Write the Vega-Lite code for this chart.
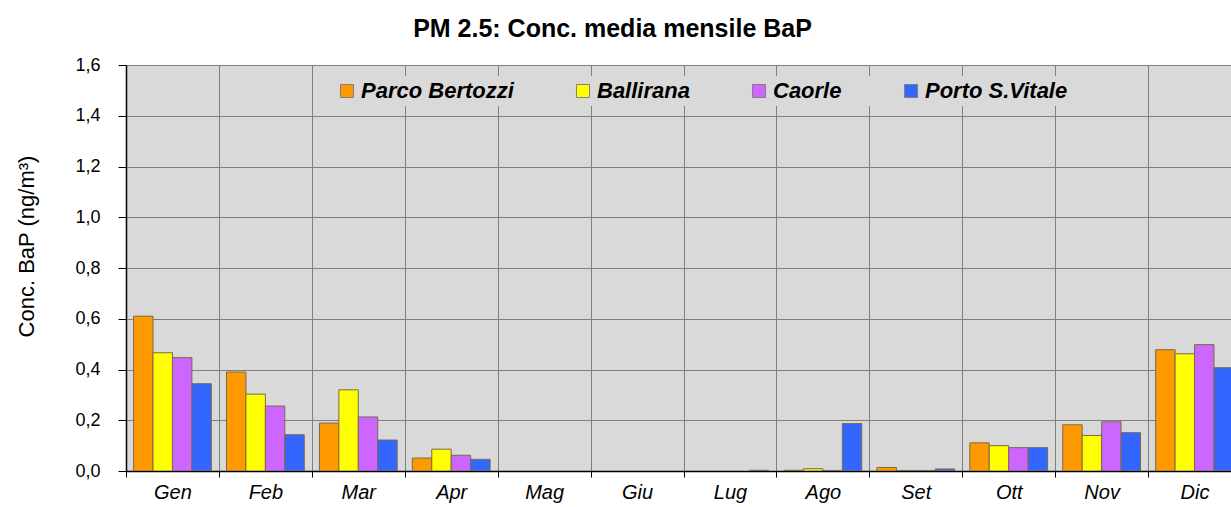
{
  "$schema": "https://vega.github.io/schema/vega-lite/v6.json",
  "autosize": {"type": "none"},
  "padding": {"left": 126, "top": 65, "right": 0, "bottom": 36},
  "width": 1105,
  "height": 406,
  "background": "white",
  "config": {
    "view": {"fill": "#d9d9d9", "stroke": null},
    "font": "Liberation Sans"
  },
  "title": {
    "text": "PM 2.5: Conc. media mensile BaP",
    "fontSize": 25,
    "fontWeight": "bold",
    "font": "Liberation Sans",
    "color": "#000000",
    "anchor": "middle",
    "frame": "group",
    "dx": -66,
    "offset": 14
  },
  "data": {
    "values": [
      {"mese": "Gen", "stazione": "Parco Bertozzi", "valore": 0.61},
      {"mese": "Gen", "stazione": "Ballirana", "valore": 0.466},
      {"mese": "Gen", "stazione": "Caorle", "valore": 0.447},
      {"mese": "Gen", "stazione": "Porto S.Vitale", "valore": 0.344},
      {"mese": "Feb", "stazione": "Parco Bertozzi", "valore": 0.39},
      {"mese": "Feb", "stazione": "Ballirana", "valore": 0.303},
      {"mese": "Feb", "stazione": "Caorle", "valore": 0.256},
      {"mese": "Feb", "stazione": "Porto S.Vitale", "valore": 0.143},
      {"mese": "Mar", "stazione": "Parco Bertozzi", "valore": 0.189},
      {"mese": "Mar", "stazione": "Ballirana", "valore": 0.32},
      {"mese": "Mar", "stazione": "Caorle", "valore": 0.213},
      {"mese": "Mar", "stazione": "Porto S.Vitale", "valore": 0.122},
      {"mese": "Apr", "stazione": "Parco Bertozzi", "valore": 0.051},
      {"mese": "Apr", "stazione": "Ballirana", "valore": 0.086},
      {"mese": "Apr", "stazione": "Caorle", "valore": 0.062},
      {"mese": "Apr", "stazione": "Porto S.Vitale", "valore": 0.046},
      {"mese": "Mag", "stazione": "Parco Bertozzi", "valore": 0},
      {"mese": "Mag", "stazione": "Ballirana", "valore": 0},
      {"mese": "Mag", "stazione": "Caorle", "valore": 0},
      {"mese": "Mag", "stazione": "Porto S.Vitale", "valore": 0},
      {"mese": "Giu", "stazione": "Parco Bertozzi", "valore": 0},
      {"mese": "Giu", "stazione": "Ballirana", "valore": 0},
      {"mese": "Giu", "stazione": "Caorle", "valore": 0},
      {"mese": "Giu", "stazione": "Porto S.Vitale", "valore": 0},
      {"mese": "Lug", "stazione": "Parco Bertozzi", "valore": 0},
      {"mese": "Lug", "stazione": "Ballirana", "valore": 0},
      {"mese": "Lug", "stazione": "Caorle", "valore": 0},
      {"mese": "Lug", "stazione": "Porto S.Vitale", "valore": 0.003},
      {"mese": "Ago", "stazione": "Parco Bertozzi", "valore": 0.003},
      {"mese": "Ago", "stazione": "Ballirana", "valore": 0.009},
      {"mese": "Ago", "stazione": "Caorle", "valore": 0.002},
      {"mese": "Ago", "stazione": "Porto S.Vitale", "valore": 0.187},
      {"mese": "Set", "stazione": "Parco Bertozzi", "valore": 0.014},
      {"mese": "Set", "stazione": "Ballirana", "valore": 0.002},
      {"mese": "Set", "stazione": "Caorle", "valore": 0.002},
      {"mese": "Set", "stazione": "Porto S.Vitale", "valore": 0.008},
      {"mese": "Ott", "stazione": "Parco Bertozzi", "valore": 0.111},
      {"mese": "Ott", "stazione": "Ballirana", "valore": 0.1},
      {"mese": "Ott", "stazione": "Caorle", "valore": 0.092},
      {"mese": "Ott", "stazione": "Porto S.Vitale", "valore": 0.092},
      {"mese": "Nov", "stazione": "Parco Bertozzi", "valore": 0.182},
      {"mese": "Nov", "stazione": "Ballirana", "valore": 0.14},
      {"mese": "Nov", "stazione": "Caorle", "valore": 0.194},
      {"mese": "Nov", "stazione": "Porto S.Vitale", "valore": 0.151},
      {"mese": "Dic", "stazione": "Parco Bertozzi", "valore": 0.478},
      {"mese": "Dic", "stazione": "Ballirana", "valore": 0.462},
      {"mese": "Dic", "stazione": "Caorle", "valore": 0.498},
      {"mese": "Dic", "stazione": "Porto S.Vitale", "valore": 0.407}
    ]
  },
  "mark": {"type": "bar", "stroke": "#7a6a4a", "strokeWidth": 1, "clip": true},
  "encoding": {
    "x": {
      "field": "mese",
      "type": "nominal",
      "sort": ["Gen", "Feb", "Mar", "Apr", "Mag", "Giu", "Lug", "Ago", "Set", "Ott", "Nov", "Dic"],
      "scale": {"range": [0, 1115], "paddingInner": 0, "paddingOuter": 0},
      "axis": {
        "title": null,
        "labelAngle": 0,
        "labelFont": "Liberation Sans",
        "labelFontSize": 20,
        "labelFontStyle": "italic",
        "labelColor": "#000000",
        "labelPadding": 5,
        "tickBand": "extent",
        "tickSize": 6,
        "tickColor": "#000000",
        "domainColor": "#000000",
        "domainWidth": 1.5,
        "grid": true,
        "gridColor": "#7f7f7f",
        "gridWidth": 1
      }
    },
    "xOffset": {
      "field": "stazione",
      "type": "nominal",
      "sort": ["Parco Bertozzi", "Ballirana", "Caorle", "Porto S.Vitale"],
      "scale": {"paddingInner": 0, "paddingOuter": 0.39}
    },
    "y": {
      "field": "valore",
      "type": "quantitative",
      "scale": {"domain": [0, 1.6], "nice": false},
      "axis": {
        "values": [0, 0.2, 0.4, 0.6, 0.8, 1.0, 1.2, 1.4, 1.6],
        "labelExpr": "replace(format(datum.value, '.1f'), '.', ',')",
        "labelFont": "Liberation Sans",
        "labelFontSize": 18,
        "labelColor": "#000000",
        "labelPadding": 18,
        "tickSize": 8,
        "tickColor": "#000000",
        "domainColor": "#000000",
        "domainWidth": 1.5,
        "grid": true,
        "gridColor": "#7f7f7f",
        "gridWidth": 1,
        "title": "Conc.  BaP (ng/m³)",
        "titleFont": "Liberation Sans",
        "titleFontSize": 22,
        "titleFontWeight": "normal",
        "titleColor": "#000000",
        "titleAngle": -90,
        "titleX": -93,
        "titleY": 181,
        "titleAlign": "center",
        "titleBaseline": "alphabetic"
      }
    },
    "strokeOpacity": {
      "condition": {"test": "datum.valore > 0", "value": 1},
      "value": 0
    },
    "color": {
      "field": "stazione",
      "type": "nominal",
      "sort": ["Parco Bertozzi", "Ballirana", "Caorle", "Porto S.Vitale"],
      "scale": {
        "domain": ["Parco Bertozzi", "Ballirana", "Caorle", "Porto S.Vitale"],
        "range": ["#ff9900", "#ffff00", "#cc66ff", "#3366ff"]
      },
      "legend": {
        "title": null,
        "orient": "none",
        "legendX": 206,
        "legendY": 11,
        "direction": "horizontal",
        "columns": 4,
        "columnPadding": 58,
        "fillColor": "#d9d9d9",
        "padding": 4,
        "symbolType": "square",
        "symbolSize": 170,
        "symbolStrokeColor": "#7f7f7f",
        "symbolStrokeWidth": 1,
        "labelFont": "Liberation Sans",
        "labelFontSize": 22,
        "labelFontWeight": "bold",
        "labelFontStyle": "italic",
        "labelColor": "#000000",
        "labelOffset": 3,
        "labelLimit": 300
      }
    }
  }
}
